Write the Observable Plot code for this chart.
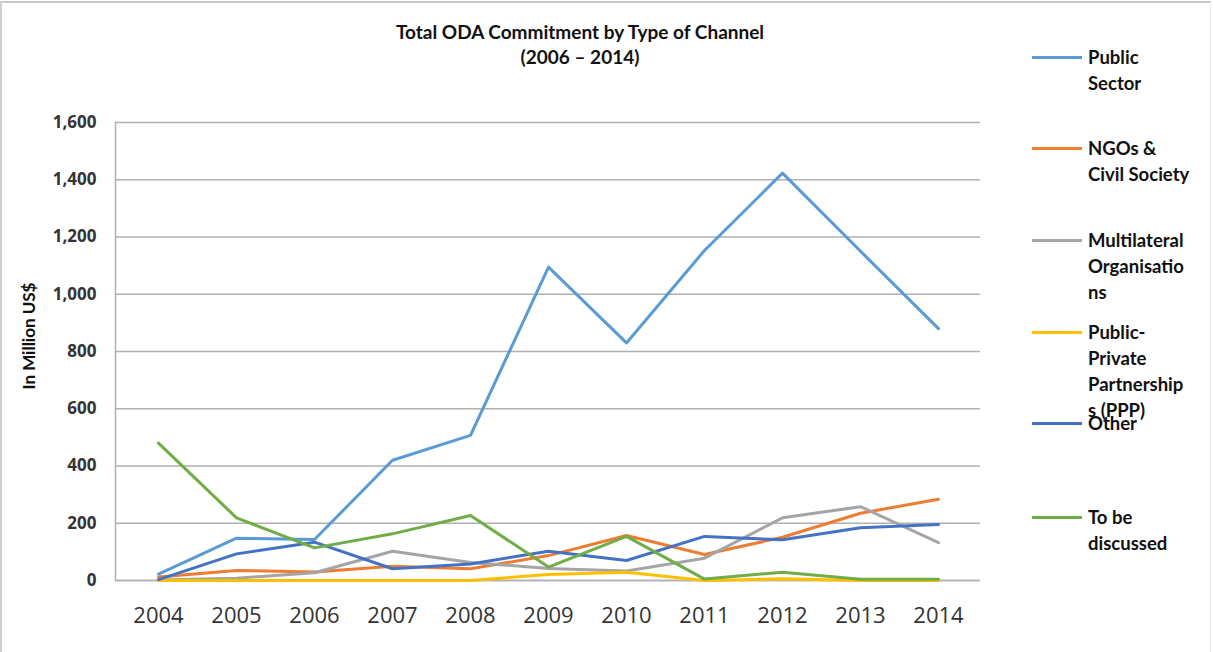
<!DOCTYPE html>
<html>
<head>
<meta charset="utf-8">
<script src="https://cdn.jsdelivr.net/npm/d3@7"></script>
<script src="https://cdn.jsdelivr.net/npm/@observablehq/plot@0.6"></script>
<style>
  body { margin: 0; background: #fff; }
  #wrap { position: relative; width: 1213px; height: 652px; overflow: hidden; background: #fff; }
  #border { position: absolute; left: 0; top: 1px; width: 1211px; height: 660px; border-top: 2px solid #c8c8c8; border-left: 2px solid #d0d0d0; border-right: 1px solid #ececec; box-sizing: border-box; }
  #chart { position: absolute; left: 0; top: 0; }
  #title { position: absolute; left: 360px; width: 440px; top: 19px; text-align: center; font-family: Lato, "Liberation Sans", sans-serif; font-weight: bold; font-size: 19px; line-height: 25px; color: #111; }
  #ylabel { position: absolute; left: 28px; top: 336px; transform: translate(-50%, -50%) rotate(-90deg); white-space: nowrap; font-family: Lato, "Liberation Sans", sans-serif; font-weight: bold; font-size: 17px; color: #111; }
  .leg { position: absolute; left: 1032px; }
  .leg .sw { position: absolute; left: 0; width: 50px; height: 3px; top: -1.5px; }
  .leg .tx { position: absolute; left: 56px; top: -13px; font-family: Lato, "Liberation Sans", sans-serif; font-weight: bold; font-size: 18.5px; line-height: 26px; color: #111; white-space: nowrap; }
</style>
</head>
<body>
<div id="wrap">
  <div id="chart"></div>
  <div id="border"></div>
  <div id="title">Total ODA Commitment by Type of Channel<br>(2006 – 2014)</div>
  <div id="ylabel">In Million US$</div>
  <div id="legend"></div>
</div>
<script>
// ---- data ----
const years = [2004, 2005, 2006, 2007, 2008, 2009, 2010, 2011, 2012, 2013, 2014];
const seriesNames = ["Public Sector", "NGOs & Civil Society", "Multilateral Organisations", "Public-Private Partnerships (PPP)", "Other", "To be discussed"];
const publicSector   = [22, 148, 143, 420, 507, 1095, 830, 1153, 1423, 1150, 880];
const ngosCivil      = [12, 35, 30, 50, 41, 87, 157, 91, 151, 235, 284];
const multilateral   = [2, 8, 27, 102, 63, 42, 33, 78, 219, 258, 132];
const ppp            = [0, 0, 0, 0, 0, 21, 29, 0, 6, 0, 0];
const other          = [3, 93, 134, 41, 58, 102, 70, 154, 142, 184, 196];
const toBeDiscussed  = [480, 219, 114, 163, 227, 47, 154, 5, 29, 4, 4];
const seriesColors = ["#5B9BD5", "#ED7D31", "#A5A5A5", "#FFC000", "#4472C4", "#70AD47"];
const yTicks = [0, 200, 400, 600, 800, 1000, 1200, 1400, 1600];
const legendLines = [["Public", "Sector"], ["NGOs &", "Civil Society"], ["Multilateral", "Organisatio", "ns"], ["Public-", "Private", "Partnership", "s (PPP)"], ["Other"], ["To be", "discussed"]];

const allValues = [publicSector, ngosCivil, multilateral, ppp, other, toBeDiscussed];
const rows = [];
allValues.forEach((vals, i) => vals.forEach((v, j) => rows.push({series: seriesNames[i], year: years[j], value: v})));

const chart = Plot.plot({
  width: 1213,
  height: 652,
  marginLeft: 115,
  marginRight: 233,
  marginTop: 122,
  marginBottom: 72,
  style: {background: "transparent", overflow: "visible"},
  x: {type: "point", domain: years, padding: 0.5},
  y: {domain: [0, 1600], ticks: yTicks},
  color: {domain: seriesNames, range: seriesColors},
  marks: [
    Plot.gridY(yTicks, {stroke: "#b0b0b0", strokeOpacity: 1, strokeWidth: 1.5}),
    Plot.frame({anchor: "left", stroke: "#b0b0b0", strokeWidth: 1.5}),
    Plot.ruleY([0], {stroke: "#b0b0b0", strokeWidth: 1.5}),
    Plot.axisY(yTicks, {tickSize: 0, tickPadding: 19, tickFormat: d3.format(","), label: null, fontSize: 17, fontFamily: "Open Sans", fontWeight: "bold", fill: "#333"}),
    Plot.axisX(years, {tickSize: 0, tickPadding: 27, tickFormat: d => String(d), label: null, fontSize: 22, fontFamily: "Open Sans", fill: "#333"}),
    Plot.line(rows, {x: "year", y: "value", z: "series", stroke: "series", strokeWidth: 3, strokeLinejoin: "round", strokeLinecap: "round"})
  ]
});
document.getElementById("chart").appendChild(chart);

// legend (HTML)
const legendY = [57, 148, 240, 332, 423, 517];
const leg = document.getElementById("legend");
seriesNames.forEach((name, i) => {
  const d = document.createElement("div");
  d.className = "leg";
  d.style.top = legendY[i] + "px";
  const sw = document.createElement("div");
  sw.className = "sw";
  sw.style.background = seriesColors[i];
  const tx = document.createElement("div");
  tx.className = "tx";
  tx.innerHTML = legendLines[i].map(s => s.replace(/&/g, "&amp;")).join("<br>");
  d.appendChild(sw);
  d.appendChild(tx);
  leg.appendChild(d);
});
</script>
</body>
</html>
